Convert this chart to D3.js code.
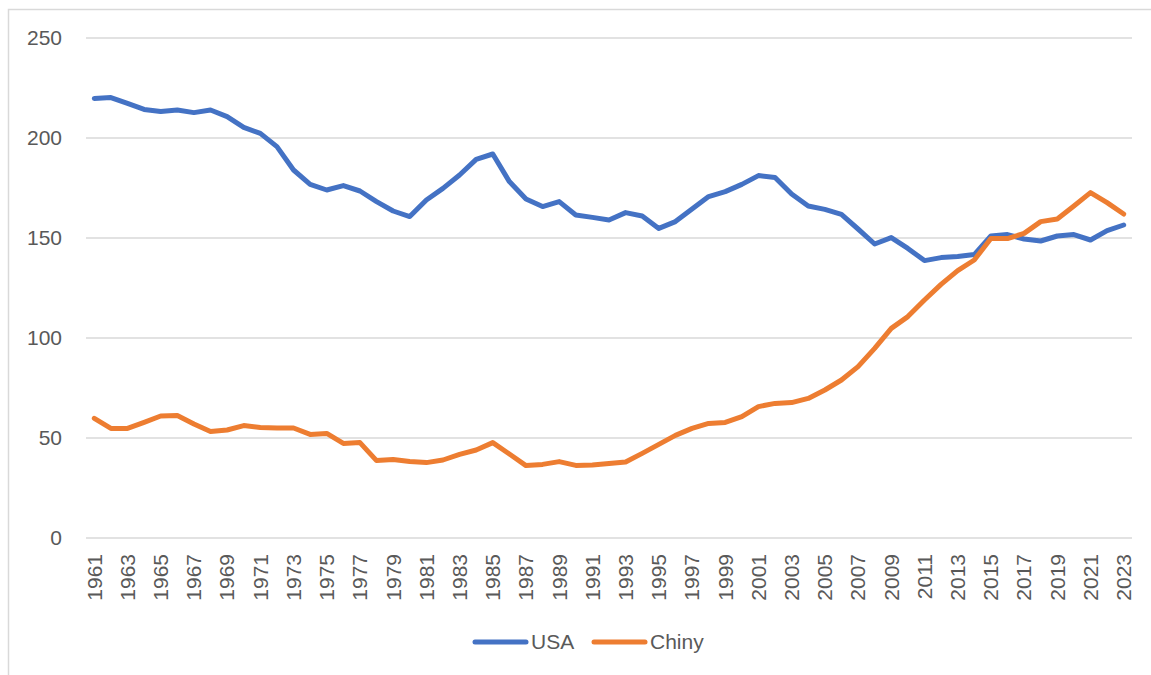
<!DOCTYPE html>
<html><head><meta charset="utf-8">
<script src="https://cdn.jsdelivr.net/npm/d3@7"></script>
<style>body{margin:0;background:#fff;} svg{display:block;font-family:"Liberation Sans",Arial,sans-serif;}</style>
</head><body><svg id="c" width="1151" height="675"></svg>
<script>
const years = d3.range(1961, 2024);
const usa = [219.8,220.2,217.3,214.3,213.2,214,212.7,214,210.7,205.3,202.3,195.7,184,176.8,174,176.2,173.5,168.2,163.5,
160.7,169,174.8,181.5,189.3,192,178.2,169.5,165.7,168.2,161.5,160.3,159,162.7,161,154.8,158.2,164.5,170.7,173.2,176.8,
181.2,180.3,172,166,164.3,161.8,154.5,147,150.2,144.8,138.7,140.2,140.7,141.7,151,151.7,149.5,148.5,151,151.7,149,153.7,156.5];
const chiny = [59.8,54.8,54.8,57.8,61,61.2,57,53.2,54,56.2,55.3,55,55,51.8,52.3,47.3,47.7,38.7,39.3,
38.2,37.7,39,41.8,44,47.7,42,36.2,36.8,38.2,36.3,36.5,37.3,38,42.3,46.8,51.3,54.8,57.3,57.8,60.7,
65.7,67.3,67.7,69.8,74,79,85.7,94.8,104.8,110.7,119,126.8,133.7,139,149.8,149.7,152.3,158.2,159.5,166,172.7,167.7,162];
const yTicks = [0,50,100,150,200,250];
const seriesNames = ["USA","Chiny"];
const colors = ["#4472C4","#ED7D31"];

(function(){
const svg = d3.select("#c");
const pL = 86, pR = 1132, pT = 38, pB = 538;
svg.append("rect").attr("x",8.5).attr("y",9.5).attr("width",1150).attr("height",670)
  .attr("fill","none").attr("stroke","#d9d9d9").attr("stroke-width",1.5);

const x = d3.scalePoint().domain(years).range([pL,pR]).padding(0.5);
const y = d3.scaleLinear().domain([0,250]).range([pB,pT]);

svg.append("g").selectAll("line").data(yTicks).join("line")
  .attr("x1",pL).attr("x2",pR).attr("y1",d=>y(d)).attr("y2",d=>y(d))
  .attr("stroke","#d9d9d9").attr("stroke-width",1.5);

svg.append("g").selectAll("text").data(yTicks).join("text")
  .attr("x",62).attr("y",d=>y(d)).attr("dy","0.35em").attr("text-anchor","end")
  .attr("font-size",21).attr("fill","#595959").text(d=>d);

svg.append("g").selectAll("text").data(years.filter((d,i)=>i%2===0)).join("text")
  .attr("transform",d=>`translate(${x(d)},554) rotate(-90)`)
  .attr("dy","0.35em").attr("text-anchor","end")
  .attr("font-size",21).attr("fill","#595959").text(d=>d);

const line = d3.line().x((d,i)=>x(years[i])).y(d=>y(d));
[usa,chiny].forEach((s,k)=>{
  svg.append("path").attr("d",line(s)).attr("fill","none").attr("stroke",colors[k])
    .attr("stroke-width",5).attr("stroke-linejoin","round").attr("stroke-linecap","round");
});

const lg = [{x:475, name:seriesNames[0], c:colors[0]},{x:594, name:seriesNames[1], c:colors[1]}];
lg.forEach(l=>{
  svg.append("line").attr("x1",l.x).attr("x2",l.x+51).attr("y1",642).attr("y2",642)
    .attr("stroke",l.c).attr("stroke-width",5).attr("stroke-linecap","round");
  svg.append("text").attr("x",l.x+56).attr("y",642).attr("dy","0.35em")
    .attr("font-size",21).attr("fill","#595959").text(l.name);
});
})();
</script></body></html>
